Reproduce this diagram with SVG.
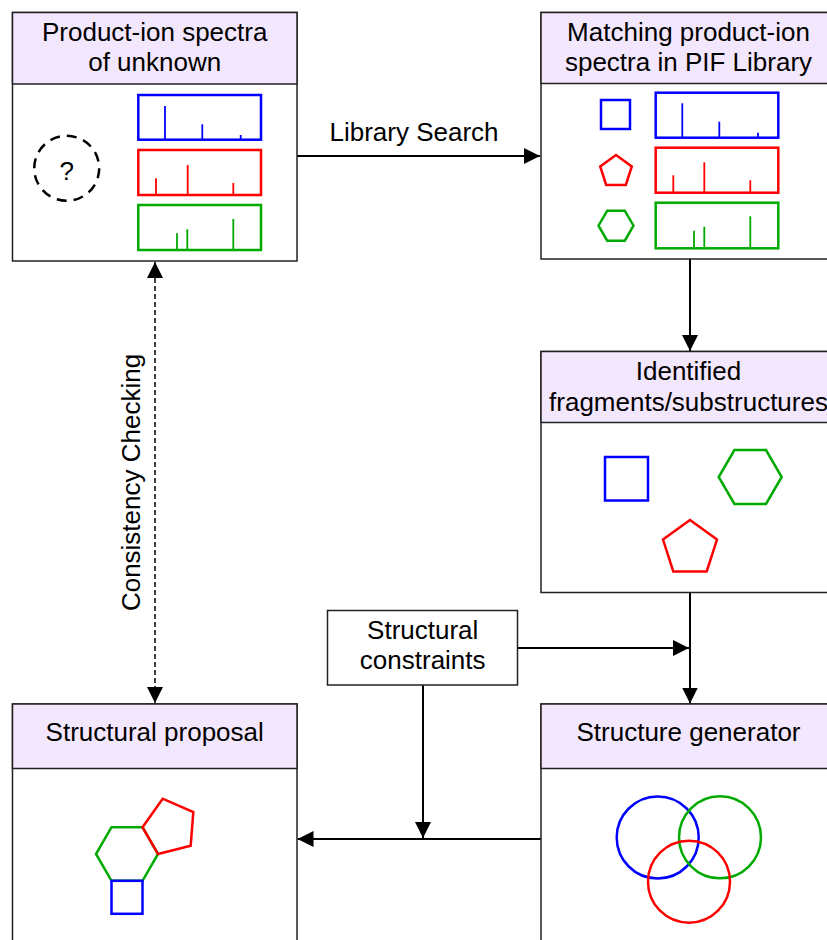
<svg xmlns="http://www.w3.org/2000/svg" width="827" height="940" viewBox="0 0 827 940">
<style>
text{font-family:"Liberation Sans",Arial,sans-serif;font-size:26px;fill:#000;text-anchor:middle}
.box{fill:#fff;stroke:#222;stroke-width:1.5}
.hdr{fill:#F3E7FD;stroke:#222;stroke-width:1.5}
.conn{stroke:#000;stroke-width:2;fill:none}
.dash{stroke:#000;stroke-width:1.5;fill:none;stroke-dasharray:5 3}
.sb{fill:none;stroke:#0000FF;stroke-width:2.5}
.sr{fill:none;stroke:#FF0000;stroke-width:2.5}
.sg{fill:none;stroke:#00AA00;stroke-width:2.5}
.pb{stroke:#0000FF;stroke-width:1.8}
.pr{stroke:#FF0000;stroke-width:1.8}
.pg{stroke:#00AA00;stroke-width:1.8}
</style>
<defs>
<marker id="arr" markerUnits="userSpaceOnUse" markerWidth="17" markerHeight="16" refX="16" refY="8" orient="auto-start-reverse">
<path d="M0,0 L16,8 L0,16 Z" fill="#000"/>
</marker>
</defs>
<rect width="827" height="940" fill="#fff"/>

<g id="connectors">
<line class="conn" x1="297" y1="156" x2="540" y2="156" marker-end="url(#arr)"/>
<text x="414" y="140.5">Library Search</text>
<line class="conn" x1="690" y1="259" x2="690" y2="351" marker-end="url(#arr)"/>
<line class="conn" x1="690" y1="592.5" x2="690" y2="703.5" marker-end="url(#arr)"/>
<line class="conn" x1="517.5" y1="648" x2="689" y2="648" marker-end="url(#arr)"/>
<line class="conn" x1="423" y1="685" x2="423" y2="838" marker-end="url(#arr)"/>
<line class="conn" x1="541" y1="839" x2="297.5" y2="839" marker-end="url(#arr)"/>
<line class="dash" x1="155" y1="262" x2="155" y2="703" marker-start="url(#arr)" marker-end="url(#arr)"/>
<text transform="translate(140,482.5) rotate(-90)" x="0" y="0">Consistency Checking</text>
</g>

<g id="unknown-spectra">
<rect class="box" x="12.5" y="12.5" width="284.5" height="248.5"/>
<rect class="hdr" x="12.5" y="12.5" width="284.5" height="71.5"/>
<text x="154.7" y="41">Product-ion spectra</text>
<text x="154.7" y="71">of unknown</text>
<circle cx="66.7" cy="168.3" r="32.5" fill="none" stroke="#000" stroke-width="2.5" stroke-dasharray="10 7"/>
<text x="66.7" y="179.5">?</text>
<rect class="sb" x="138.3" y="95" width="122.7" height="44.7"/>
<line class="pb" x1="165" y1="139.7" x2="165" y2="106"/>
<line class="pb" x1="202.3" y1="139.7" x2="202.3" y2="124.3"/>
<line class="pb" x1="240.7" y1="139.7" x2="240.7" y2="135"/>
<rect class="sr" x="138.3" y="150" width="122.7" height="45"/>
<line class="pr" x1="156" y1="195" x2="156" y2="178.3"/>
<line class="pr" x1="187.7" y1="195" x2="187.7" y2="165"/>
<line class="pr" x1="233.3" y1="195" x2="233.3" y2="183"/>
<rect class="sg" x="138.3" y="205" width="122.7" height="45"/>
<line class="pg" x1="177" y1="250" x2="177" y2="233.3"/>
<line class="pg" x1="187.3" y1="250" x2="187.3" y2="229.3"/>
<line class="pg" x1="233.3" y1="250" x2="233.3" y2="219"/>
</g>

<g id="library-spectra">
<rect class="box" x="541" y="12.5" width="295" height="246.5"/>
<rect class="hdr" x="541" y="12.5" width="295" height="71"/>
<text x="688.5" y="41">Matching product-ion</text>
<text x="688.5" y="71">spectra in PIF Library</text>
<rect class="sb" x="601" y="100" width="29" height="29"/>
<polygon class="sr" points="616,155 631.8,166.5 625.8,185 606.2,185 600.2,166.5"/>
<polygon class="sg" points="633.5,225.7 624.8,240.7 607.2,240.7 598.5,225.7 607.2,210.7 624.8,210.7"/>
<rect class="sb" x="655.7" y="92.7" width="122.6" height="45"/>
<line class="pb" x1="682.3" y1="137.7" x2="682.3" y2="103.3"/>
<line class="pb" x1="719.3" y1="137.7" x2="719.3" y2="121.7"/>
<line class="pb" x1="758" y1="137.7" x2="758" y2="132.7"/>
<rect class="sr" x="655.7" y="147.7" width="122.6" height="45"/>
<line class="pr" x1="673.3" y1="192.7" x2="673.3" y2="175.3"/>
<line class="pr" x1="704.3" y1="192.7" x2="704.3" y2="162.3"/>
<line class="pr" x1="750.3" y1="192.7" x2="750.3" y2="180.3"/>
<rect class="sg" x="655.7" y="202.7" width="122.6" height="45.6"/>
<line class="pg" x1="694" y1="248.3" x2="694" y2="230.7"/>
<line class="pg" x1="704.3" y1="248.3" x2="704.3" y2="226.7"/>
<line class="pg" x1="750.3" y1="248.3" x2="750.3" y2="216.3"/>
</g>

<g id="identified-fragments">
<rect class="box" x="541" y="351.5" width="295" height="241"/>
<rect class="hdr" x="541" y="351.5" width="295" height="71"/>
<text x="688.5" y="380">Identified</text>
<text x="688.5" y="410.5">fragments/substructures</text>
<rect class="sb" x="605" y="457" width="43" height="43.5"/>
<polygon class="sg" points="781.7,477 766,504 734.4,504 718.7,477 734.4,450 766,450"/>
<polygon class="sr" points="690,520 717,539.6 706.7,571.4 673.3,571.4 663,539.6"/>
</g>

<g id="structural-constraints">
<rect class="box" x="327.5" y="610.5" width="190" height="74.5"/>
<text x="422.7" y="638.5">Structural</text>
<text x="422.7" y="669">constraints</text>
</g>

<g id="structural-proposal">
<rect class="box" x="12.5" y="704" width="284.5" height="245"/>
<rect class="hdr" x="12.5" y="704" width="284.5" height="64.5"/>
<text x="154.7" y="741">Structural proposal</text>
<polygon class="sg" points="158,854 142.5,880.8 111.5,880.8 96,854 111.5,827.2 142.5,827.2"/>
<polygon class="sr" points="142.5,827.2 162.7,798.7 193.3,812 190.7,845.7 158,854"/>
<rect class="sb" x="111.5" y="880.8" width="31" height="33"/>
</g>

<g id="structure-generator">
<rect class="box" x="541" y="704" width="295" height="245"/>
<rect class="hdr" x="541" y="704" width="295" height="64.5"/>
<text x="688.5" y="741">Structure generator</text>
<circle cx="657.7" cy="837.5" r="41" fill="none" stroke="#0000FF" stroke-width="2.5"/>
<circle cx="720" cy="837.3" r="41" fill="none" stroke="#00AA00" stroke-width="2.5"/>
<circle cx="689" cy="881.7" r="41" fill="none" stroke="#FF0000" stroke-width="2.5"/>
</g>
</svg>
